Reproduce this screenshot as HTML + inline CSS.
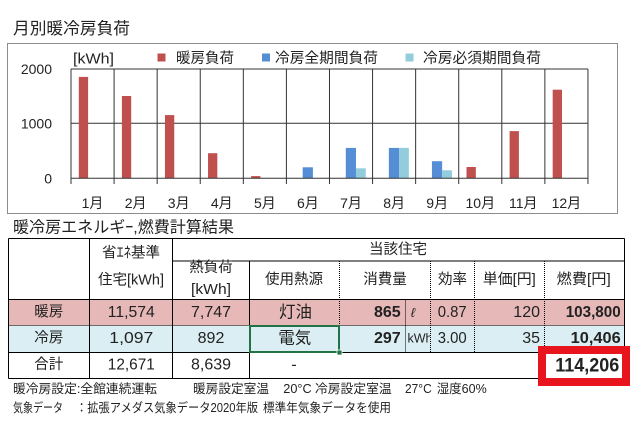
<!DOCTYPE html>
<html><head><meta charset="utf-8">
<style>
html,body{margin:0;padding:0;background:#fff;}
svg{display:block;}
text{font-family:"Liberation Sans","Noto Sans CJK JP",sans-serif;fill:#222;}
</style></head>
<body>
<svg width="631" height="431" viewBox="0 0 631 431" xmlns="http://www.w3.org/2000/svg">
<defs>
<clipPath id="kc"><rect x="405" y="326" width="25" height="26"/></clipPath>
</defs>
<!-- Chart title -->
<text x="13" y="29" font-size="16.5" dominant-baseline="central" textLength="117" lengthAdjust="spacingAndGlyphs">月別暖冷房負荷</text>
<!-- chart box -->
<rect x="7.5" y="43.5" width="610" height="170" fill="#fff" stroke="#8c8c8c" stroke-width="1"/>
<!-- legend -->
<text x="73" y="59" font-size="15" dominant-baseline="central" textLength="41" lengthAdjust="spacingAndGlyphs">[kWh]</text>
<rect x="157.5" y="53.5" width="8" height="8" fill="#C0504D"/>
<text x="176" y="59" font-size="14.5" dominant-baseline="central" textLength="58" lengthAdjust="spacingAndGlyphs">暖房負荷</text>
<rect x="262" y="53.5" width="8" height="8" fill="#558ED5"/>
<text x="275" y="59" font-size="14.5" dominant-baseline="central" textLength="103" lengthAdjust="spacingAndGlyphs">冷房全期間負荷</text>
<rect x="405.5" y="53.5" width="8" height="8" fill="#93CDDD"/>
<text x="423" y="59" font-size="14.5" dominant-baseline="central" textLength="118" lengthAdjust="spacingAndGlyphs">冷房必須期間負荷</text>
<!-- y labels -->
<text x="52" y="69" font-size="14" text-anchor="end" dominant-baseline="central">2000</text>
<text x="52" y="123.3" font-size="14" text-anchor="end" dominant-baseline="central">1000</text>
<text x="52" y="178.3" font-size="14" text-anchor="end" dominant-baseline="central">0</text>
<!-- gridlines -->
<g stroke="#333" stroke-width="1">
<line x1="71" y1="69" x2="588" y2="69"/>
<line x1="71" y1="123.3" x2="588" y2="123.3"/>
<line x1="71" y1="69" x2="71" y2="184"/>
<line x1="114.08" y1="69" x2="114.08" y2="184"/>
<line x1="157.16" y1="69" x2="157.16" y2="184"/>
<line x1="200.24" y1="69" x2="200.24" y2="184"/>
<line x1="243.32" y1="69" x2="243.32" y2="184"/>
<line x1="286.4" y1="69" x2="286.4" y2="184"/>
<line x1="329.48" y1="69" x2="329.48" y2="184"/>
<line x1="372.56" y1="69" x2="372.56" y2="184"/>
<line x1="415.64" y1="69" x2="415.64" y2="184"/>
<line x1="458.72" y1="69" x2="458.72" y2="184"/>
<line x1="501.8" y1="69" x2="501.8" y2="184"/>
<line x1="544.88" y1="69" x2="544.88" y2="184"/>
<line x1="587.96" y1="69" x2="587.96" y2="184"/>
</g>
<!-- red bars -->
<g fill="#C0504D">
<rect x="78.8" y="76.9" width="9.3" height="101.4"/>
<rect x="121.9" y="96.0" width="9.3" height="82.3"/>
<rect x="164.96" y="115.1" width="9.3" height="63.2"/>
<rect x="208.04" y="153.2" width="9.3" height="25.1"/>
<rect x="251.12" y="176.1" width="9.3" height="2.2"/>
<rect x="466.52" y="167.0" width="9.3" height="11.3"/>
<rect x="509.6" y="131.1" width="9.3" height="47.2"/>
<rect x="552.68" y="89.7" width="9.3" height="88.6"/>
</g>
<g fill="#558ED5">
<rect x="302.7" y="167.3" width="10.2" height="11"/>
<rect x="345.78" y="147.9" width="10.2" height="30.4"/>
<rect x="388.86" y="147.9" width="10.2" height="30.4"/>
<rect x="431.94" y="161.2" width="10.2" height="17.1"/>
</g>
<g fill="#93CDDD">
<rect x="355.98" y="168.3" width="9.8" height="10"/>
<rect x="399.06" y="147.9" width="9.8" height="30.4"/>
<rect x="442.14" y="170.3" width="9.8" height="8"/>
</g>
<line x1="71" y1="178.3" x2="588" y2="178.3" stroke="#333" stroke-width="1"/>
<!-- x labels -->
<g font-size="14" text-anchor="middle">
<text x="92.5" y="203" dominant-baseline="central">1月</text>
<text x="135.6" y="203" dominant-baseline="central">2月</text>
<text x="178.7" y="203" dominant-baseline="central">3月</text>
<text x="221.8" y="203" dominant-baseline="central">4月</text>
<text x="264.9" y="203" dominant-baseline="central">5月</text>
<text x="307.9" y="203" dominant-baseline="central">6月</text>
<text x="351" y="203" dominant-baseline="central">7月</text>
<text x="394.1" y="203" dominant-baseline="central">8月</text>
<text x="437.2" y="203" dominant-baseline="central">9月</text>
<text x="480.3" y="203" dominant-baseline="central">10月</text>
<text x="523.3" y="203" dominant-baseline="central">11月</text>
<text x="566.4" y="203" dominant-baseline="central">12月</text>
</g>

<!-- Table title -->
<text x="13" y="228" font-size="16" dominant-baseline="central" textLength="221" lengthAdjust="spacingAndGlyphs">暖冷房エネルギｰ,燃費計算結果</text>

<!-- row fills -->
<rect x="8.5" y="299.5" width="616" height="26" fill="#E6B8B7"/>
<rect x="8.5" y="325.5" width="616" height="27" fill="#DAEEF3"/>

<!-- solid lines -->
<g stroke="#000" stroke-width="1">
<line x1="8.5" y1="238.5" x2="624.5" y2="238.5"/>
<line x1="172.5" y1="261" x2="624.5" y2="261"/>
<line x1="8.5" y1="299.5" x2="624.5" y2="299.5"/>
<line x1="8.5" y1="352.5" x2="624.5" y2="352.5"/>
<line x1="8.5" y1="378.5" x2="540" y2="378.5"/>
<line x1="8.5" y1="238.5" x2="8.5" y2="378.5"/>
<line x1="624.5" y1="238.5" x2="624.5" y2="352.5"/>
<line x1="89.5" y1="238.5" x2="89.5" y2="378.5"/>
<line x1="172.5" y1="238.5" x2="172.5" y2="378.5"/>
<line x1="249.5" y1="261" x2="249.5" y2="378.5"/>
</g>
<g stroke="#000" stroke-width="1" stroke-dasharray="1,1">
<line x1="8.5" y1="325.5" x2="624.5" y2="325.5"/>
<line x1="339.5" y1="261" x2="339.5" y2="352.5"/>
<line x1="405.5" y1="299.5" x2="405.5" y2="352.5"/>
<line x1="430.5" y1="261" x2="430.5" y2="352.5"/>
<line x1="474.5" y1="261" x2="474.5" y2="352.5"/>
<line x1="544.5" y1="261" x2="544.5" y2="352.5"/>
</g>

<!-- header text -->
<g font-size="14.5" text-anchor="middle">
<text x="131" y="253.3" dominant-baseline="central">省ｴﾈ基準</text>
<text x="131" y="280.7" dominant-baseline="central" textLength="66" lengthAdjust="spacingAndGlyphs">住宅[kWh]</text>
<text x="398" y="250" dominant-baseline="central">当該住宅</text>
<text x="211" y="268" dominant-baseline="central">熱負荷</text>
<text x="211" y="290" dominant-baseline="central" textLength="40" lengthAdjust="spacingAndGlyphs">[kWh]</text>
<text x="294" y="280" dominant-baseline="central">使用熱源</text>
<text x="385" y="280" dominant-baseline="central">消費量</text>
<text x="452.5" y="280" dominant-baseline="central">効率</text>
<text x="509.3" y="280" dominant-baseline="central" textLength="53" lengthAdjust="spacingAndGlyphs">単価[円]</text>
<text x="583.7" y="280" dominant-baseline="central" textLength="54" lengthAdjust="spacingAndGlyphs">燃費[円]</text>
</g>

<!-- data rows -->
<g font-size="16" text-anchor="middle">
<text x="48.8" y="312.3" font-size="14.5" dominant-baseline="central">暖房</text>
<text x="131.3" y="312.3" dominant-baseline="central" textLength="47" lengthAdjust="spacingAndGlyphs">11,574</text>
<text x="211" y="312.3" dominant-baseline="central">7,747</text>
<text x="295.5" y="312.3" font-size="16.5" dominant-baseline="central">灯油</text>
<text x="452.2" y="312.3" dominant-baseline="central" textLength="29" lengthAdjust="spacingAndGlyphs">0.87</text>

<text x="48.8" y="338.5" font-size="14.5" dominant-baseline="central">冷房</text>
<text x="131.3" y="338.5" dominant-baseline="central" textLength="44" lengthAdjust="spacingAndGlyphs">1,097</text>
<text x="211" y="338.5" dominant-baseline="central">892</text>
<text x="294.8" y="338.5" font-size="16.5" dominant-baseline="central">電気</text>
<text x="452.2" y="338.5" dominant-baseline="central" textLength="29" lengthAdjust="spacingAndGlyphs">3.00</text>

<text x="48.8" y="365" font-size="14.5" dominant-baseline="central">合計</text>
<text x="131.3" y="365" dominant-baseline="central" textLength="47" lengthAdjust="spacingAndGlyphs">12,671</text>
<text x="211" y="365" dominant-baseline="central">8,639</text>
<text x="294" y="365" dominant-baseline="central">-</text>
</g>
<g font-size="16" text-anchor="end">
<text x="400.7" y="312.3" font-weight="bold" dominant-baseline="central">865</text>
<text x="540" y="312.3" dominant-baseline="central">120</text>
<text x="620.7" y="312.3" font-weight="bold" dominant-baseline="central" textLength="55" lengthAdjust="spacingAndGlyphs">103,800</text>
<text x="400.7" y="338.5" font-weight="bold" dominant-baseline="central">297</text>
<text x="540" y="338.5" dominant-baseline="central">35</text>
<text x="620.7" y="338.5" font-weight="bold" dominant-baseline="central" textLength="50" lengthAdjust="spacingAndGlyphs">10,406</text>
</g>
<text x="413" y="312.3" font-size="13" font-style="italic" text-anchor="middle" dominant-baseline="central">ℓ</text>
<text x="407.5" y="338.5" font-size="12.5" dominant-baseline="central" clip-path="url(#kc)">kWh</text>

<!-- selected cell -->
<rect x="250" y="326" width="89" height="26" fill="none" stroke="#217346" stroke-width="2"/>
<rect x="337" y="350" width="5" height="5" fill="#217346" stroke="#fff" stroke-width="0.8"/>

<!-- red total box -->
<rect x="538" y="346" width="92" height="40" fill="#E8141E"/>
<rect x="546" y="354" width="76" height="24" fill="#fff"/>
<text x="619.3" y="365.5" font-size="19.5" font-weight="bold" text-anchor="end" dominant-baseline="central" textLength="64" lengthAdjust="spacingAndGlyphs">114,206</text>

<!-- notes -->
<g font-size="12.5">
<text x="13" y="389" dominant-baseline="central" textLength="144" lengthAdjust="spacingAndGlyphs">暖冷房設定:全館連続運転</text>
<text x="193" y="389" dominant-baseline="central" textLength="76" lengthAdjust="spacingAndGlyphs">暖房設定室温</text>
<text x="283.3" y="389" dominant-baseline="central" textLength="28.4" lengthAdjust="spacingAndGlyphs">20°C</text>
<text x="315" y="389" dominant-baseline="central" textLength="76.7" lengthAdjust="spacingAndGlyphs">冷房設定室温</text>
<text x="405" y="389" dominant-baseline="central" textLength="26.7" lengthAdjust="spacingAndGlyphs">27°C</text>
<text x="436.7" y="389" dominant-baseline="central" textLength="50" lengthAdjust="spacingAndGlyphs">湿度60%</text>
<text x="13" y="408" dominant-baseline="central" textLength="50" lengthAdjust="spacingAndGlyphs">気象データ</text>
<text x="76" y="408" dominant-baseline="central" textLength="182" lengthAdjust="spacingAndGlyphs">：拡張アメダス気象データ2020年版</text>
<text x="263" y="408" dominant-baseline="central" textLength="128" lengthAdjust="spacingAndGlyphs">標準年気象データを使用</text>
</g>
</svg>
</body></html>
